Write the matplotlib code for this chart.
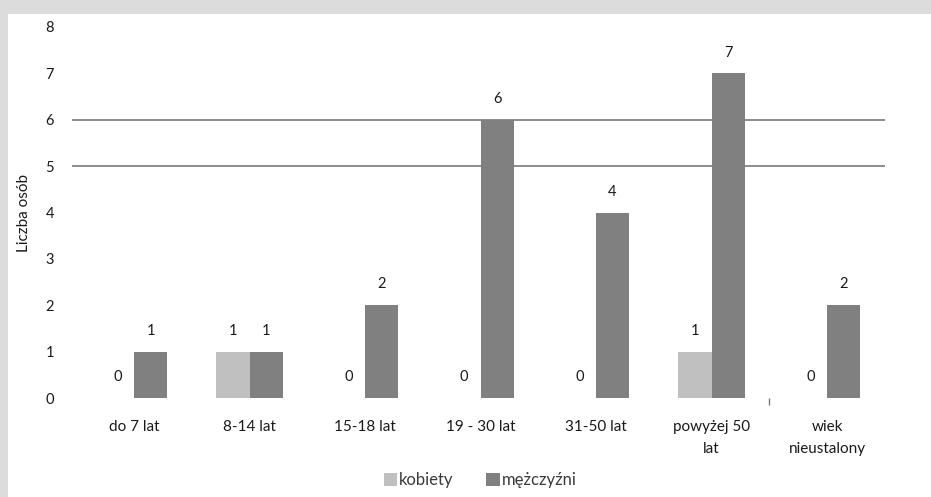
import matplotlib
matplotlib.use("Agg")
import matplotlib.pyplot as plt
import numpy as np
from matplotlib.patches import Rectangle

categories = ["do 7 lat", "8-14 lat", "15-18 lat", "19 - 30 lat", "31-50 lat",
              "powyżej 50\nlat", "wiek\nnieustalony"]
kobiety = [0, 1, 0, 0, 0, 1, 0]
mezczyzni = [1, 1, 2, 6, 4, 7, 2]
series_names = ["kobiety", "mężczyźni"]
y_ticks = [0, 1, 2, 3, 4, 5, 6, 7, 8]
grid_levels = [5, 6]

plt.rcParams['font.family'] = ['Lato', 'DejaVu Sans']

W, H = 931, 497
fig = plt.figure(figsize=(W / 100, H / 100), dpi=100)
fig.patch.set_facecolor("#dcdcdc")
# white panel
fig.patches.append(Rectangle((8 / W, 0), 1 - 8 / W, 1 - 14 / H,
                             transform=fig.transFigure, facecolor="white",
                             edgecolor="none", zorder=-5))

left, right = 72, 885
top, bottom = 27, 398
ax = fig.add_axes([left / W, 1 - bottom / H, (right - left) / W, (bottom - top) / H])
ax.set_facecolor("none")
ax.set_zorder(2)

x = np.arange(len(categories))
bw = 0.286
c_k, c_m = "#c0c0c0", "#808080"
ax.bar(x - bw / 2, kobiety, bw, color=c_k, label=series_names[0], zorder=3)
ax.bar(x + bw / 2, mezczyzni, bw, color=c_m, label=series_names[1], zorder=3)

for yv in grid_levels:
    ax.axhline(yv, color="#8c8c8c", lw=1.4, zorder=1)

txt = "#1a1a1a"
for xi, v in zip(x, kobiety):
    ax.annotate(str(v), (xi - bw / 2, v), xytext=(0, 15), textcoords="offset points",
                ha="center", va="center", fontsize=10.5, color=txt)
for xi, v in zip(x, mezczyzni):
    ax.annotate(str(v), (xi + bw / 2, v), xytext=(0, 15), textcoords="offset points",
                ha="center", va="center", fontsize=10.5, color=txt)

ax.set_xlim(-0.537, 6.502)
ax.set_ylim(0, 8)
ax.set_yticks(y_ticks)
ax.set_yticklabels([str(t) for t in y_ticks], fontsize=10.5, color=txt)
ax.set_xticks(x)
ax.set_xticklabels(categories, fontsize=11, color=txt, linespacing=1.75)
ax.set_xticks([5.5], minor=True)
ax.tick_params(axis="x", which="major", length=0, pad=16)
ax.tick_params(axis="x", which="minor", length=5, width=1, color="#777777")
ax.tick_params(axis="y", length=0, pad=13)
for s in ax.spines.values():
    s.set_visible(False)

ax.set_ylabel("Liczba osób", fontsize=11, color=txt)
ax.yaxis.set_label_coords(-(left - 31) / (right - left), 0.5)

leg = fig.legend(loc="center", bbox_to_anchor=(480 / W, 1 - 480 / H), ncol=2,
                 frameon=False, fontsize=12, handlelength=0.8, handleheight=0.8,
                 handletextpad=0.1, columnspacing=2.0)
for t in leg.get_texts():
    t.set_color("#3a3a3a")

fig.savefig("out.png", dpi=100, facecolor=fig.get_facecolor())
